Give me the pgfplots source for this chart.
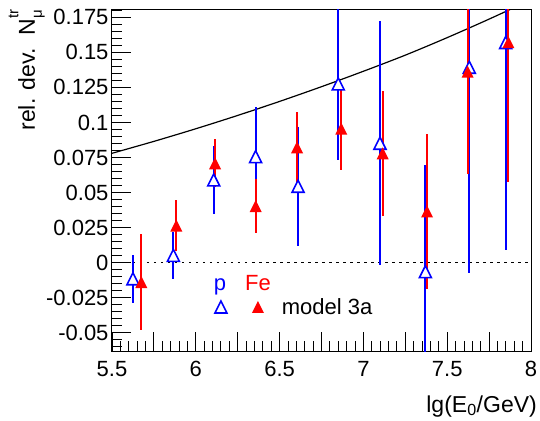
\documentclass[border=0pt]{standalone}
\usepackage{fontspec}
\setmainfont{Liberation Sans}
\usepackage{pgfplots}
\pgfplotsset{compat=1.18}

% ROOT-like triangles: bbox centred on the point
\pgfdeclareplotmark{rtri}{%
  \pgfpathmoveto{\pgfqpoint{-\pgfplotmarksize}{-\pgfplotmarksize}}%
  \pgfpathlineto{\pgfqpoint{\pgfplotmarksize}{-\pgfplotmarksize}}%
  \pgfpathlineto{\pgfqpoint{0pt}{\pgfplotmarksize}}%
  \pgfpathclose\pgfusepath{fill,stroke}}
\pgfdeclareplotmark{rtri*}{%
  \pgfpathmoveto{\pgfqpoint{-\pgfplotmarksize}{-\pgfplotmarksize}}%
  \pgfpathlineto{\pgfqpoint{\pgfplotmarksize}{-\pgfplotmarksize}}%
  \pgfpathlineto{\pgfqpoint{0pt}{\pgfplotmarksize}}%
  \pgfpathclose\pgfusepath{fill}}

\definecolor{rblue}{RGB}{0,0,255}
\definecolor{rred}{RGB}{255,0,0}

\begin{document}
\begin{tikzpicture}
\begin{axis}[
    scale only axis,
    width=419bp, height=341bp,
    xmin=5.5, xmax=8,
    ymin=-0.0630, ymax=0.1802,
    axis line style={line width=1bp},
    tick align=inside,
    xtick pos=bottom, ytick pos=left,
    major tick length=19bp, minor tick length=10bp,
    every tick/.style={black, line width=0.9bp},
    xtick={5.5,5.75,6,6.25,6.5,6.75,7,7.25,7.5,7.75,8},
    xticklabels={5.5,,6,,6.5,,7,,7.5,,8},
    minor x tick num=4,
    ytick={-0.05,-0.025,0,0.025,0.05,0.075,0.1,0.125,0.15,0.175},
    yticklabels={-0.05,-0.025,0,0.025,0.05,0.075,0.1,0.125,0.15,0.175},
    minor ytick={-0.06,-0.055,-0.045,-0.04,-0.035,-0.03,-0.02,-0.015,-0.01,-0.005,
                 0.005,0.01,0.015,0.02,0.03,0.035,0.04,0.045,0.055,0.06,0.065,0.07,
                 0.08,0.085,0.09,0.095,0.105,0.11,0.115,0.12,0.13,0.135,0.14,0.145,
                 0.155,0.16,0.165,0.17,0.18},
    tick label style={font=\fontsize{22bp}{24bp}\selectfont},
    xticklabel style={yshift=-7bp},
    label style={font=\fontsize{23bp}{26bp}\selectfont},
    xlabel={lg(E\textsubscript{0}/GeV)},
    xlabel style={at={(axis description cs:1.0143,-0.179)}, anchor=base east, inner sep=0pt},
    ylabel={rel. dev.\ \ N\rlap{\raisebox{0.72em}{\fontsize{15bp}{15bp}\selectfont tr}}\raisebox{-0.3em}{\fontsize{15bp}{15bp}\selectfont μ}},
    ylabel style={at={(axis description cs:-0.184,1)}, anchor=base east, inner sep=0pt},
]

% model curve
\addplot[black, line width=1.2bp, smooth, no marks] coordinates {
  (5.5,0.078) (5.75,0.0865) (6.0,0.0955) (6.25,0.1050) (6.5,0.1150)
  (6.75,0.1255) (7.0,0.1365) (7.25,0.1480) (7.5,0.1605) (7.75,0.1737) (8.0,0.1875)
};

% zero line
\addplot[black, line width=1bp, dash pattern=on 2.5bp off 4.5bp, no marks] coordinates {(5.5,0) (8,0)};

% proton
\addplot[rblue, only marks, mark=rtri, mark size=6bp,
    mark options={draw=rblue, fill=white, line width=1.6bp},
    error bars/.cd, y dir=both, y explicit, error mark=none,
    error bar style={color=rblue, line width=2bp, solid}] coordinates {
  (5.625,-0.0115) +- (0,0.017)
  (5.866,0.0052) +- (0,0.017)
  (6.107,0.0590) +- (0,0.0245)
  (6.357,0.0756) +- (0,0.0355)
  (6.610,0.0545) +- (0,0.0425)
  (6.850,0.1275) +- (0,0.0545)
  (7.099,0.0852) +- (0,0.0868)
  (7.370,-0.0064) +- (0,0.076)
  (7.632,0.1394) +- (0,0.147)
  (7.849,0.1570) +- (0,0.148)
};

% iron
\addplot[rred, only marks, mark=rtri*, mark size=6bp,
    mark options={fill=rred},
    error bars/.cd, y dir=both, y explicit, error mark=none,
    error bar style={color=rred, line width=2bp, solid}] coordinates {
  (5.675,-0.0138) +- (0,0.0345)
  (5.884,0.0265) +- (0,0.018)
  (6.115,0.0709) +- (0,0.017)
  (6.357,0.0404) +- (0,0.0195)
  (6.604,0.0823) +- (0,0.0254)
  (6.868,0.0956) +- (0,0.0295)
  (7.115,0.0780) +- (0,0.0447)
  (7.380,0.0365) +- (0,0.0553)
  (7.622,0.1362) +- (0,0.0732)
  (7.865,0.1572) +- (0,0.0994)
};

% legend text
\node[anchor=base, inner sep=0pt, text=rblue, font=\fontsize{22bp}{24bp}\selectfont] at (axis cs:6.144,-0.0195) {p};
\node[anchor=base west, inner sep=0pt, text=rred, font=\fontsize{22bp}{24bp}\selectfont] at (axis cs:6.2936,-0.0195) {Fe};
\node[inner sep=0pt] at (axis cs:6.150,-0.0316) {\tikz{\pgfsetplotmarksize{6bp}\pgfsetlinewidth{1.6bp}\pgfsetstrokecolor{rblue}\pgfsetfillcolor{white}\pgfuseplotmark{rtri}}};
\node[inner sep=0pt] at (axis cs:6.371,-0.0316) {\tikz{\pgfsetplotmarksize{6bp}\pgfsetfillcolor{rred}\pgfuseplotmark{rtri*}}};
\node[anchor=base west, inner sep=0pt, font=\fontsize{22bp}{24bp}\selectfont] at (axis cs:6.5125,-0.0373) {model 3a};

\end{axis}
\pgfresetboundingbox
\path[use as bounding box] (-112bp,-70bp) rectangle (428bp,351bp);
\end{tikzpicture}
\end{document}
